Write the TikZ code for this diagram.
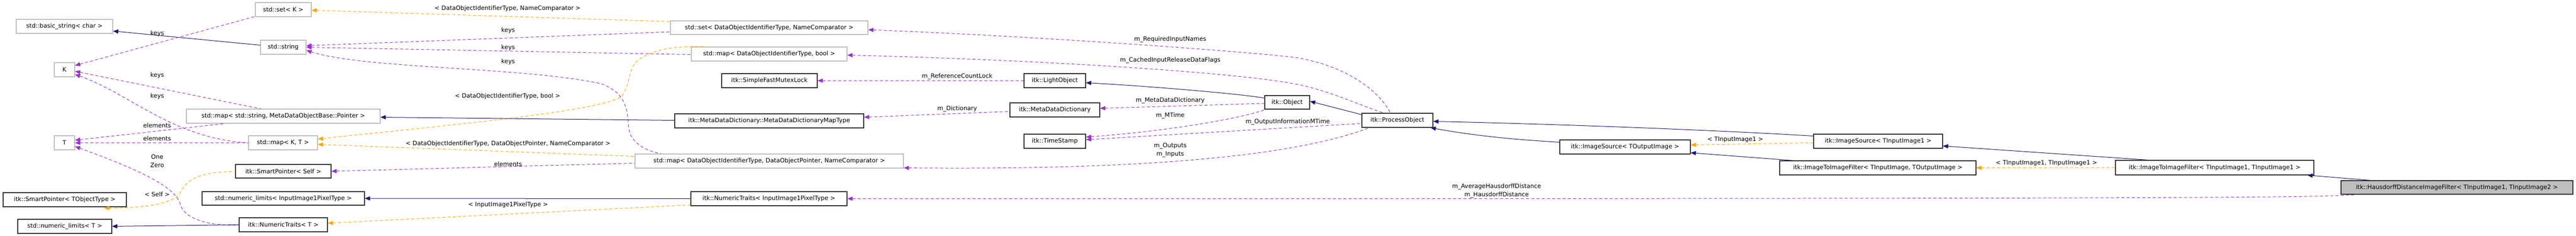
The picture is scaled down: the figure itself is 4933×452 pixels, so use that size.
\documentclass[tikz,border=0pt]{standalone}
\usepackage{fontspec}
\setmainfont{DejaVu Sans}
\usetikzlibrary{arrows.meta,calc}
\definecolor{inhc}{HTML}{191970}
\definecolor{usec}{HTML}{9A32CD}
\definecolor{tplc}{HTML}{FFA500}
\definecolor{grayb}{HTML}{BFBFBF}
\newcommand{\mkbox}[7]{\node[box,#6,minimum width={(#3-#2)*1pt},minimum height={(#5-#4)*1pt}] (#1) at ({(#2+#3)/2},{(#4+#5)/2}) {#7};}
\begin{document}
\begin{tikzpicture}[x=1pt,y=-1pt,
  font=\fontsize{11.5}{14}\selectfont,
  box/.style={draw,line width=1.2pt,inner sep=0pt,fill=white},
  ext/.style={draw=grayb},
  own/.style={draw=black!80},
  main/.style={draw=black!80,fill=black!25},
  tip/.style={{Triangle[length=10pt,width=8pt]}-},
  inh/.style={tip,draw=inhc,line width=1pt},
  use/.style={tip,draw=usec,line width=1pt,dash pattern=on 6pt off 4pt,-{},{Triangle[length=10pt,width=8pt,fill=usec]}-},
  tpl/.style={draw=tplc,line width=1pt,dash pattern=on 6pt off 4pt,{Triangle[length=10pt,width=8pt,fill=tplc]}-},
  lbl/.style={inner sep=0pt,align=center,font=\fontsize{11.5}{16}\selectfont}]
\useasboundingbox (0,0) rectangle (4933,452);
\mkbox{setK}{489}{596}{5}{32}{ext}{std::set< K >}
\mkbox{bstr}{31}{216}{37}{64}{ext}{std::basic\_string< char >}
\mkbox{str}{499}{586}{77}{104}{ext}{std::string}
\mkbox{K}{104}{143}{120}{147}{ext}{K}
\mkbox{mapSM}{357}{728}{209}{236}{ext}{std::map< std::string, MetaDataObjectBase::Pointer >}
\mkbox{T}{104}{143}{260}{287}{ext}{T}
\mkbox{mapKT}{476}{608}{260}{287}{ext}{std::map< K, T >}
\mkbox{spSelf}{451}{634}{315}{341}{own}{itk::SmartPointer< Self >}
\mkbox{spT}{6}{242}{369}{396}{own}{itk::SmartPointer< TObjectType >}
\mkbox{nlIIPT}{387}{698}{367}{393}{own}{std::numeric\_limits< InputImage1PixelType >}
\mkbox{nlT}{34}{214}{420}{447}{own}{std::numeric\_limits< T >}
\mkbox{ntT}{458}{627}{417}{444}{own}{itk::NumericTraits< T >}
\mkbox{setD}{1284}{1662}{40}{66}{ext}{std::set< DataObjectIdentifierType, NameComparator >}
\mkbox{mapDB}{1324}{1622}{90}{117}{ext}{std::map< DataObjectIdentifierType, bool >}
\mkbox{mdMap}{1292}{1654}{218}{245}{own}{itk::MetaDataDictionary::MetaDataDictionaryMapType}
\mkbox{mapDP}{1216}{1730}{295}{322}{ext}{std::map< DataObjectIdentifierType, DataObjectPointer, NameComparator >}
\mkbox{ntIIPT}{1323}{1622}{367}{394}{own}{itk::NumericTraits< InputImage1PixelType >}
\mkbox{sfml}{1382}{1565}{141}{168}{own}{itk::SimpleFastMutexLock}
\mkbox{light}{1961}{2079}{141}{168}{own}{itk::LightObject}
\mkbox{mdd}{1934}{2106}{197}{224}{own}{itk::MetaDataDictionary}
\mkbox{ts}{1961}{2079}{257}{284}{own}{itk::TimeStamp}
\mkbox{obj}{2422}{2508}{183}{209}{own}{itk::Object}
\mkbox{po}{2608}{2744}{217}{244}{own}{itk::ProcessObject}
\mkbox{isTO}{2987}{3237}{268}{295}{own}{itk::ImageSource< TOutputImage >}
\mkbox{isTI}{3473}{3720}{257}{284}{own}{itk::ImageSource< TInputImage1 >}
\mkbox{itiTO}{3408}{3784}{308}{335}{own}{itk::ImageToImageFilter< TInputImage, TOutputImage >}
\mkbox{itiTI}{4051}{4431}{307}{335}{own}{itk::ImageToImageFilter< TInputImage1, TInputImage1 >}
\mkbox{hd}{4483}{4927}{346}{372}{main}{itk::HausdorffDistanceImageFilter< TInputImage1, TInputImage2 >}
\begin{scope}[on background layer/.style={}]
\draw[inh] ($(bstr.east)+(0,9)$) -- ($(str.west)+(0,-4)$);
\draw[use] ($(K.east)+(0,-8)$) -- ($(setK.south west)+(0,-1)$);
\draw[use] ($(K.east)+(0,3)$) -- ($(mapSM.north west)+(143,0)$);
\draw[use] ($(K.east)+(0,9)$) .. controls (250,180) and (330,265) .. (mapKT.west);
\draw[use] ($(T.east)+(0,-5)$) -- ($(mapSM.south west)+(75,0)$);
\draw[use] (T.east) -- (mapKT.west);
\draw[use] ($(T.east)+(0,7)$) .. controls (280,330) and (335,360) .. (345,390) .. controls (352,425) and (420,434) .. (ntT.west);
\draw[tpl] ($(spT.south west)+(194,2)$) .. controls (300,398) and (335,385) .. (345,370) .. controls (360,335) and (400,330) .. (spSelf.west);
\draw[inh] (nlT.east) -- (ntT.west);
\draw[tpl] ($(setK.east)+(0,1)$) -- ($(setD.north west)+(0,2)$);
\draw[use] ($(str.east)+(0,-3)$) -- ($(setD.west)+(0,8)$);
\draw[use] (str.east) -- ($(mapDB.west)+(0,1)$);
\draw[use] ($(str.east)+(0,6)$) .. controls (700,132) and (1000,128) .. (1150,160) .. controls (1210,180) and (1200,230) .. (1205,250) .. controls (1210,275) and (1240,290) .. ($(mapDP.north west)+(50,0)$);
\draw[tpl] ($(mapKT.east)+(0,-7)$) .. controls (800,245) and (1150,215) .. (1190,185) .. controls (1210,160) and (1200,125) .. (1230,110) .. controls (1260,92) and (1300,88) .. ($(mapDB.north west)+(30,0)$);
\draw[tpl] ($(mapKT.east)+(0,3)$) -- ($(mapDP.west)+(0,-9)$);
\draw[inh] ($(mapSM.east)+(0,2)$) -- ($(mdMap.west)+(0,-1)$);
\draw[use] (spSelf.east) -- ($(mapDP.west)+(0,4)$);
\draw[inh] (nlIIPT.east) -- (ntIIPT.west);
\draw[tpl] ($(ntT.east)+(0,-3)$) -- ($(ntIIPT.west)+(0,12)$);
\draw[use] ($(setD.east)+(0,4)$) .. controls (2000,70) and (2400,100) .. (2480,110) .. controls (2600,130) and (2650,190) .. ($(po.north west)+(55,0)$);
\draw[use] ($(mapDB.east)+(0,2)$) .. controls (2000,115) and (2400,140) .. (2500,165) .. controls (2560,180) and (2600,200) .. ($(po.north west)+(42,0)$);
\draw[use] (sfml.east) -- (light.west);
\draw[inh] ($(light.east)+(0,4)$) .. controls (2200,165) and (2380,180) .. ($(obj.west)+(0,-8)$);
\draw[use] ($(mdMap.east)+(0,-7)$) -- ($(mdd.west)+(0,3)$);
\draw[use] ($(mdd.east)+(0,-3)$) -- ($(obj.west)+(0,2)$);
\draw[use] ($(ts.east)+(0,-8)$) .. controls (2250,250) and (2380,225) .. ($(obj.south west)+(0,1)$);
\draw[use] ($(ts.east)+(0,-3)$) -- ($(po.west)+(0,6)$);
\draw[inh] ($(obj.east)+(0,-2)$) -- ($(po.west)+(0,-11)$);
\draw[use] ($(mapDP.east)+(0,13)$) .. controls (2100,325) and (2450,310) .. ($(po.south west)+(15,0)$);
\draw[inh] ($(po.east)+(0,2)$) .. controls (3000,238) and (3300,250) .. ($(isTI.west)+(0,-10)$);
\draw[inh] ($(po.south east)+(-5,0)$) .. controls (2850,265) and (2950,270) .. ($(isTO.north west)+(0,5)$);
\draw[tpl] ($(isTO.east)+(0,-4)$) -- ($(isTI.west)+(0,3)$);
\draw[inh] ($(isTO.south east)+(0,-3)$) -- ($(itiTO.north west)+(26,0)$);
\draw[tpl] (itiTO.east) -- (itiTI.west);
\draw[inh] ($(isTI.south east)+(0,-5)$) -- ($(itiTI.north west)+(62,0)$);
\draw[inh] ($(itiTI.south east)+(-13,0)$) -- ($(hd.north west)+(57,0)$);
\draw[use] (ntIIPT.east) .. controls (4300,381) and (4450,378) .. ($(hd.south west)+(32,0)$);
\end{scope}
\node[lbl] (l1) at (301,64) {keys};
\node[lbl] (l2) at (301,144) {keys};
\node[lbl] (l3) at (301,184) {keys};
\node[lbl] (l4) at (301,240) {elements};
\node[lbl] (l5) at (301,265) {elements};
\node[lbl] (l6) at (301,308) {One\\Zero};
\node[lbl] (l7) at (301,372) {< Self >};
\node[lbl] (l8) at (972,16) {< DataObjectIdentifierType, NameComparator >};
\node[lbl] (l9) at (973,58) {keys};
\node[lbl] (l10) at (973,91) {keys};
\node[lbl] (l11) at (973,118) {keys};
\node[lbl] (l12) at (972,184) {< DataObjectIdentifierType, bool >};
\node[lbl] (l13) at (973,275) {< DataObjectIdentifierType, DataObjectPointer, NameComparator >};
\node[lbl] (l14) at (973,314) {elements};
\node[lbl] (l15) at (973,392) {< InputImage1PixelType >};
\node[lbl] (l16) at (1833,146) {m\_ReferenceCountLock};
\node[lbl] (l17) at (1833,208) {m\_Dictionary};
\node[lbl] (l18) at (2241,75) {m\_RequiredInputNames};
\node[lbl] (l19) at (2241,115) {m\_CachedInputReleaseDataFlags};
\node[lbl] (l20) at (2241,192) {m\_MetaDataDictionary};
\node[lbl] (l21) at (2241,221) {m\_MTime};
\node[lbl] (l22) at (2466,233) {m\_OutputInformationMTime};
\node[lbl] (l23) at (2241,288) {m\_Outputs\\m\_Inputs};
\node[lbl] (l24) at (2866,365) {m\_AverageHausdorffDistance\\m\_HausdorffDistance};
\node[lbl] (l25) at (3323,268) {< TInputImage1 >};
\node[lbl] (l26) at (3919,313) {< TInputImage1, TInputImage1 >};
\end{tikzpicture}
\end{document}
